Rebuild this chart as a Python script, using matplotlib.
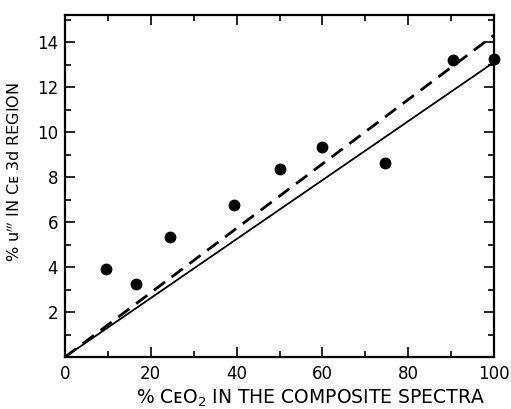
import matplotlib
matplotlib.use("Agg")
import matplotlib.pyplot as plt
import numpy as np
from matplotlib.ticker import MultipleLocator

# data
x_pts = [9.5, 16.5, 24.5, 39.5, 50, 60, 74.5, 90.5, 100]
y_pts = [3.93, 3.23, 5.33, 6.77, 8.37, 9.35, 8.61, 13.19, 13.26]
line_x = [0, 100]
solid_y = [0, 13.1]
dashed_y = [0, 14.3]
x_ticks = [0, 20, 40, 60, 80, 100]
y_ticks = [2, 4, 6, 8, 10, 12, 14]

plt.rcParams['font.family'] = ['DejaVu Sans']
fig = plt.figure(figsize=(5.11, 4.09), dpi=100)
ax = fig.add_axes([65/511, 1-357/409, (494-65)/511, (357-15)/409])

ax.plot(line_x, solid_y, color='black', lw=1.3)
ax.plot(line_x, dashed_y, color='black', lw=2.0, dashes=(5, 3))
ax.plot(x_pts, y_pts, 'o', color='black', markersize=7.5, clip_on=False, zorder=5)

ax.set_xlim(0, 100)
ax.set_ylim(0, 15.2)
ax.set_xticks(x_ticks)
ax.set_yticks(y_ticks)
ax.xaxis.set_minor_locator(MultipleLocator(10))
ax.yaxis.set_minor_locator(MultipleLocator(1))
ax.tick_params(which='both', direction='in', top=True, right=True, width=1.2, labelsize=12)
ax.tick_params(which='major', length=7)
ax.tick_params(which='minor', length=4)
ax.tick_params(axis='x', pad=6)
ax.tick_params(axis='y', pad=5)
for s in ax.spines.values():
    s.set_linewidth(1.6)

ax.set_xlabel("% C\u1d07O$_2$ IN THE COMPOSITE SPECTRA", fontsize=13.5, labelpad=3)
ax.xaxis.set_label_coords(0.571, -0.09)
ax.set_ylabel("% u$^{\\prime\\prime\\prime}$ IN C\u1d07 3d REGION", fontsize=11.5, labelpad=6)
ax.yaxis.set_label_coords(-0.097, 0.54)

fig.savefig("out.png", dpi=100)
